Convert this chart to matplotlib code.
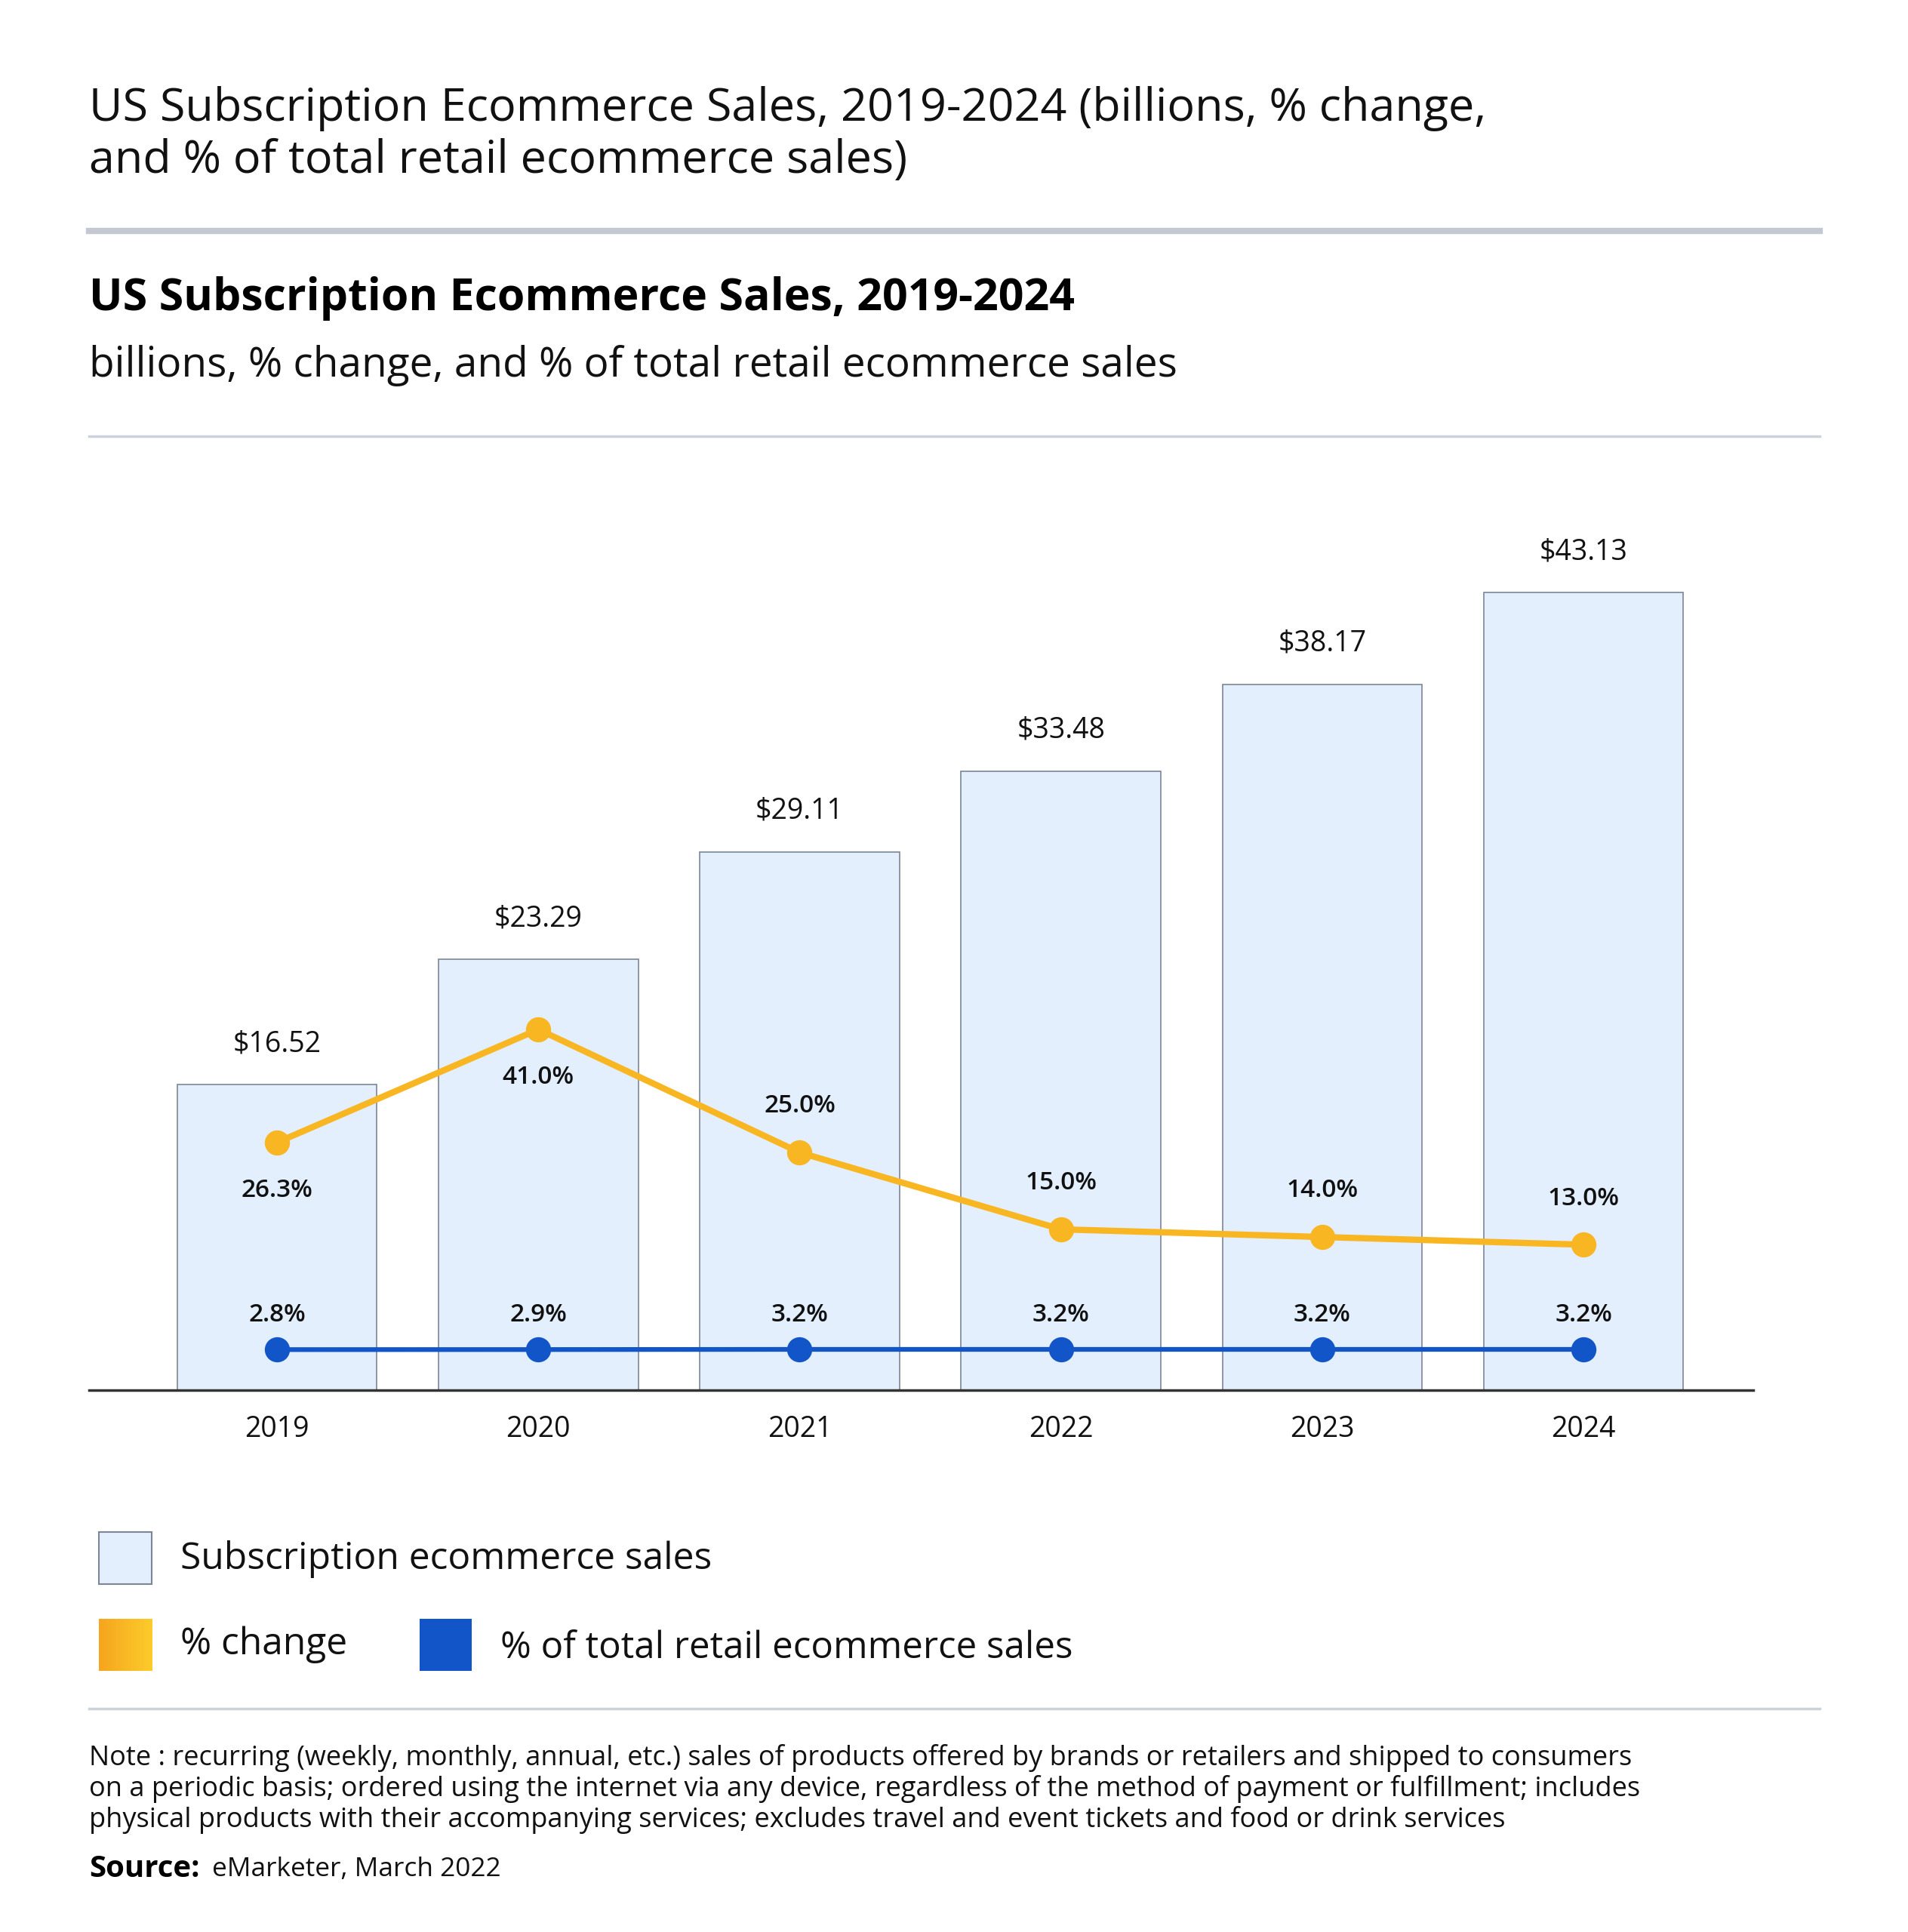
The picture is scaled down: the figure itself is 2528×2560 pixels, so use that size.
import numpy as np
import matplotlib.pyplot as plt
from matplotlib.lines import Line2D
from matplotlib.patches import Rectangle
from matplotlib.colors import LinearSegmentedColormap

plt.rcParams['font.family'] = ['Open Sans', 'DejaVu Sans']

years = ['2019', '2020', '2021', '2022', '2023', '2024']
sales = [16.52, 23.29, 29.11, 33.48, 38.17, 43.13]
pct_change = [26.3, 41.0, 25.0, 15.0, 14.0, 13.0]
pct_total = [2.8, 2.9, 3.2, 3.2, 3.2, 3.2]

BAR = '#e3effc'
BAR_EDGE = '#7d8696'
ORANGE = '#f9b623'
BLUE = '#1155c8'

# layout measured on a copy scaled down by 1.636
W, H = 2528 / 1.636, 2560 / 1.636


def fx(x):
    return x / W


def fy(y):
    return 1 - y / H


fig = plt.figure(figsize=(25.28, 25.6), dpi=100)

# header
fig.text(fx(72), fy(88), 'US Subscription Ecommerce Sales, 2019-2024 (billions, % change,',
         fontsize=44, va='center', color='#111111')
fig.text(fx(72), fy(130), 'and % of total retail ecommerce sales)',
         fontsize=44, va='center', color='#111111')
fig.add_artist(Line2D([fx(72), fx(1474)], [fy(187), fy(187)], color='#c3c8d2', lw=6))
fig.text(fx(72), fy(242), 'US Subscription Ecommerce Sales, 2019-2024',
         fontsize=42.5, fontweight='bold', va='center', color='#000000')
fig.text(fx(72), fy(296), 'billions, % change, and % of total retail ecommerce sales',
         fontsize=39.5, va='center', color='#111111')
fig.add_artist(Line2D([fx(72), fx(1474)], [fy(353), fy(353)], color='#cdd1da', lw=2.5))

# chart
x = np.arange(len(years))
ax = fig.add_axes([fx(72), fy(1126), fx(1420) - fx(72), fy(400) - fy(1126)])
ax.bar(x, sales, width=0.764, color=BAR, edgecolor=BAR_EDGE, linewidth=1.2, zorder=1)
ax.set_xlim(-0.72, 5.65)
ax.set_ylim(0, 48.47)
for xi, v in zip(x, sales):
    ax.annotate(f'${v:.2f}', (xi, v), xytext=(0, 39), textcoords='offset points',
                ha='center', va='center', fontsize=27, color='#111111')
ax.set_xticks(x)
ax.set_xticklabels(years, fontsize=27, color='#111111')
ax.tick_params(axis='x', length=0, pad=24)
ax.set_yticks([])
for s in ['top', 'right', 'left']:
    ax.spines[s].set_visible(False)
ax.spines['bottom'].set_color('#333333')
ax.spines['bottom'].set_linewidth(2.5)
ax.patch.set_alpha(0)

# % change line
ax2 = ax.twinx()
ax2.set_ylim(-5.93, 110.66)
ax2.plot(x, pct_change, color=ORANGE, lw=6, marker='o', markersize=24,
         markerfacecolor=ORANGE, markeredgewidth=0, zorder=3)
for i, (xi, v) in enumerate(zip(x, pct_change)):
    dy = -46 if i < 2 else 44
    ax2.annotate(f'{v:.1f}%', (xi, v), xytext=(0, dy), textcoords='offset points',
                 ha='center', va='center', fontsize=24, fontweight='semibold', color='#111111')
ax2.axis('off')

# % of total line
ax3 = ax.twinx()
ax3.set_ylim(-66, 1452)
ax3.plot(x, pct_total, color=BLUE, lw=4.5, marker='o', markersize=24,
         markerfacecolor=BLUE, markeredgewidth=0, zorder=3)
for xi, v in zip(x, pct_total):
    ax3.annotate(f'{v:.1f}%', (xi, v), xytext=(0, 33), textcoords='offset points',
                 ha='center', va='center', fontsize=24, fontweight='semibold', color='#111111')
ax3.axis('off')

# legend
fig.add_artist(Rectangle((fx(80), fy(1283)), fx(123) - fx(80), fy(1241) - fy(1283),
                         facecolor=BAR, edgecolor=BAR_EDGE, lw=1.5))
fig.text(fx(146), fy(1263), 'Subscription ecommerce sales', fontsize=35.8, va='center', color='#111111')

cmap = LinearSegmentedColormap.from_list('og', ['#f6a51e', '#fccc2b'])
gax = fig.add_axes([fx(80), fy(1353), fx(123) - fx(80), fy(1311) - fy(1353)])
gax.imshow(np.linspace(0, 1, 64)[None, :], cmap=cmap, aspect='auto')
gax.axis('off')
fig.text(fx(146), fy(1332), '% change', fontsize=35.8, va='center', color='#111111')

fig.add_artist(Rectangle((fx(340), fy(1353)), fx(382) - fx(340), fy(1311) - fy(1353),
                         facecolor=BLUE, edgecolor='none'))
fig.text(fx(405), fy(1335), '% of total retail ecommerce sales', fontsize=35.5, va='center', color='#111111')

fig.add_artist(Line2D([fx(72), fx(1474)], [fy(1384), fy(1384)], color='#cdd1da', lw=2.5))

# footnote
note = ['Note : recurring (weekly, monthly, annual, etc.) sales of products offered by brands or retailers and shipped to consumers',
        'on a periodic basis; ordered using the internet via any device, regardless of the method of payment or fulfillment; includes',
        'physical products with their accompanying services; excludes travel and event tickets and food or drink services']
for i, line in enumerate(note):
    fig.text(fx(72), fy(1424 + 25 * i), line, fontsize=26, va='center', color='#111111')
fig.text(fx(72), fy(1514), 'Source:', fontsize=29, fontweight='bold', va='center', color='#000000')
fig.text(fx(172), fy(1514), 'eMarketer, March 2022', fontsize=25.4, va='center', color='#111111')

fig.savefig('out.png', dpi=100, facecolor='white')
